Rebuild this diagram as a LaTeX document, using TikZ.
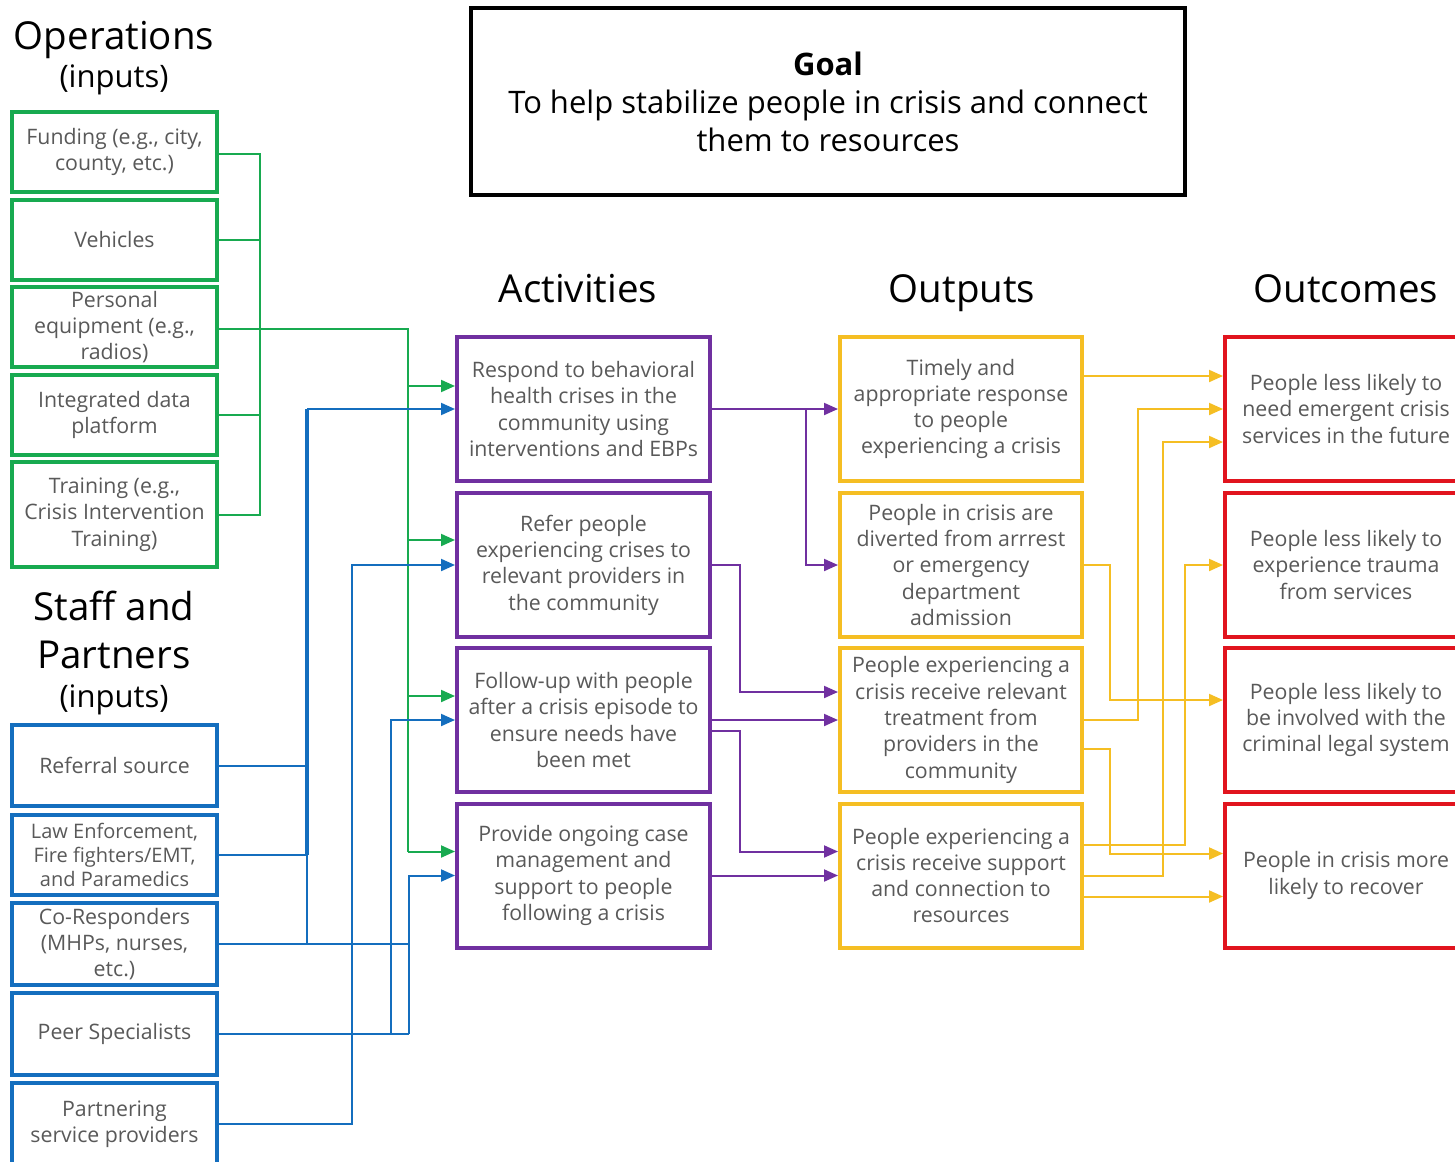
\documentclass[tikz,border=0pt]{standalone}
\usepackage{fontspec}
\setmainfont{Open Sans}
\usetikzlibrary{arrows.meta,calc}
\definecolor{cgrn}{RGB}{24,170,80}
\definecolor{cblu}{RGB}{20,110,190}
\definecolor{cpur}{RGB}{112,48,160}
\definecolor{cyel}{RGB}{245,190,35}
\definecolor{cred}{RGB}{225,20,30}
\definecolor{cgray}{RGB}{89,89,89}
\begin{document}
\begin{tikzpicture}[x=1pt,y=-1pt,
  box/.style={draw, line width=4pt, align=center, inner sep=0pt, text=cgray,
    font=\fontsize{21.3}{26.3}\selectfont},
  gbox/.style={box, draw=cgrn, minimum width=205pt},
  bbox/.style={box, draw=cblu, minimum width=205pt},
  abox/.style={box, draw=cpur, minimum width=253pt, minimum height=144pt},
  obox/.style={box, draw=cyel, minimum width=242pt, minimum height=144pt},
  cbox/.style={box, draw=cred, minimum width=242pt, minimum height=144pt},
  title/.style={font=\fontsize{38.5}{46}\selectfont, text=black, inner sep=0pt, anchor=base},
  subtitle/.style={font=\fontsize{31}{37}\selectfont, text=black, inner sep=0pt, anchor=base},
  tip/.style={-{Triangle[length=14pt,width=12pt]}},
  gline/.style={draw=cgrn, line width=2pt},
  bline/.style={draw=cblu, line width=2pt},
  pline/.style={draw=cpur, line width=2pt},
  yline/.style={draw=cyel, line width=2pt},
]
\useasboundingbox (0,0) rectangle (1455,1161);
\clip (0,0) rectangle (1455,1161);
\fill[white] (0,0) rectangle (1455,1161);

% titles
\node[title] (tops) at (114,50) {Operations};
\node[subtitle] (tinp1) at (114,88) {(inputs)};
\node[title] (tstaff) at (114,620) {Staff and};
\node[title] (tpart) at (114,668) {Partners};
\node[subtitle] (tinp2) at (114,707) {(inputs)};
\node[title] (tact) at (578,302) {Activities};
\node[title] (tout) at (962,302) {Outputs};
\node[title] (toc) at (1346,302) {Outcomes};

% goal
\node[draw=black, line width=3.5pt, minimum width=714pt, minimum height=187pt, align=center,
  font=\fontsize{31}{38}\selectfont, inner sep=0pt] (goal) at (828,101.5)
  {\textbf{Goal}\\To help stabilize people in crisis and connect\\them to resources};

% operations inputs
\node[gbox, minimum height=80pt] (fund) at (114.5,152) {Funding (e.g., city,\\county, etc.)};
\node[gbox, minimum height=80pt] (veh) at (114.5,240) {Vehicles};
\node[gbox, minimum height=80pt] (pers) at (114.5,327) {Personal\\equipment (e.g.,\\radios)};
\node[gbox, minimum height=80pt] (integ) at (114.5,415) {Integrated data\\platform};
\node[gbox, minimum height=105pt] (train) at (114.5,514.5) {Training (e.g.,\\Crisis Intervention\\Training)};

% staff inputs
\node[bbox, minimum height=81pt] (refer) at (114.5,765.5) {Referral source};
\node[bbox, minimum height=80pt, font=\fontsize{20}{24}\selectfont] (law) at (114.5,855) {Law Enforcement,\\Fire fighters/EMT,\\and Paramedics};
\node[bbox, minimum height=82pt] (cores) at (114.5,944) {Co-Responders\\(MHPs, nurses,\\etc.)};
\node[bbox, minimum height=82pt] (peer) at (114.5,1034) {Peer Specialists};
\node[bbox, minimum height=82pt] (partner) at (114.5,1124) {Partnering\\service providers};

% activities
\node[abox] (act1) at (583.5,409) {Respond to behavioral\\health crises in the\\community using\\interventions and EBPs};
\node[abox] (act2) at (583.5,565) {Refer people\\experiencing crises to\\relevant providers in\\the community};
\node[abox] (act3) at (583.5,720) {Follow-up with people\\after a crisis episode to\\ensure needs have\\been met};
\node[abox] (act4) at (583.5,875.5) {Provide ongoing case\\management and\\support to people\\following a crisis};

% outputs
\node[obox] (out1) at (961,409) {Timely and\\appropriate response\\to people\\experiencing a crisis};
\node[obox] (out2) at (961,565) {People in crisis are\\diverted from arrrest\\or emergency\\department\\admission};
\node[obox] (out3) at (961,720) {People experiencing a\\crisis receive relevant\\treatment from\\providers in the\\community};
\node[obox] (out4) at (961,875.5) {People experiencing a\\crisis receive support\\and connection to\\resources};

% outcomes
\node[cbox] (oc1) at (1346,409) {People less likely to\\need emergent crisis\\services in the future};
\node[cbox] (oc2) at (1346,565) {People less likely to\\experience trauma\\from services};
\node[cbox] (oc3) at (1346,720) {People less likely to\\be involved with the\\criminal legal system};
\node[cbox] (oc4) at (1346,875.5) {People in crisis more\\likely to recover};

% ---------- green connectors ----------
\coordinate (gbus) at (260,154);
\coordinate (gtrunk) at (408,329);
\draw[gline] (fund.east |- gbus) -- (gbus) -- (train.east -| gbus) -- (train.east);
\draw[gline] (veh.east) -- (veh.east -| gbus);
\draw[gline] (integ.east) -- (integ.east -| gbus);
\coordinate (a1g) at ([yshift=23pt]act1.west);
\coordinate (a2g) at ([yshift=25pt]act2.west);
\coordinate (a3g) at ([yshift=24pt]act3.west);
\coordinate (a4g) at ([yshift=24pt]act4.west);
\draw[gline] (pers.east |- gtrunk) -- (gtrunk) -- (a4g -| gtrunk);
\draw[gline, tip] (a1g -| gtrunk) -- (a1g);
\draw[gline, tip] (a2g -| gtrunk) -- (a2g);
\draw[gline, tip] (a3g -| gtrunk) -- (a3g);
\draw[gline, tip] (a4g -| gtrunk) -- (a4g);

% ---------- blue connectors ----------
\coordinate (bx1) at (307,0);
\coordinate (bx2) at (391,0);
\coordinate (bx3) at (409,0);
\coordinate (bxp) at (351.5,0);
\draw[bline] (refer.east) -- (refer.east -| bx1);
\draw[bline] (law.east) -- (law.east -| bx1);
\draw[bline, line width=4pt] (act1.west -| bx1) -- (law.east -| bx1);
\draw[bline] (law.east -| bx1) -- (cores.east -| bx1);
\draw[bline, tip] (act1.west -| bx1) -- (act1.west);
\draw[bline] (cores.east) -- (cores.east -| bx3);
\draw[bline] (peer.east) -- (peer.east -| bx3);
\draw[bline, tip] (peer.east -| bx2) |- (act3.west);
\draw[bline, tip] (peer.east -| bx3) |- (act4.west);
\draw[bline, tip] (partner.east) -- (partner.east -| bxp) |- (act2.west);

% ---------- purple connectors ----------
\coordinate (px1) at (806,0);
\coordinate (px2) at (740,0);
\coordinate (o3a) at ([yshift=28pt]out3.west);
\coordinate (a3b) at ([yshift=-11pt]act3.east);
\coordinate (o4a) at ([yshift=24pt]out4.west);
\draw[pline, tip] (act1.east) -- (out1.west);
\draw[pline, tip] (act1.east -| px1) |- (out2.west);
\draw[pline, tip] (act2.east) -- (act2.east -| px2) |- (o3a);
\draw[pline, tip] (act3.east) -- (out3.west);
\draw[pline, tip] (a3b) -- (a3b -| px2) |- (o4a);
\draw[pline, tip] (act4.east) -- (out4.west);

% ---------- yellow connectors ----------
\coordinate (yx1) at (1110,0);
\coordinate (yx2) at (1138,0);
\coordinate (yx3) at (1163,0);
\coordinate (yx4) at (1185,0);
\coordinate (o1a) at ([yshift=33pt]out1.east);
\coordinate (c1c) at ([yshift=-33pt]oc1.west);
\coordinate (c3a) at ([yshift=20pt]oc3.west);
\coordinate (o3b) at ([yshift=-29pt]out3.east);
\coordinate (c4a) at ([yshift=22pt]oc4.west);
\coordinate (o4b) at ([yshift=31pt]out4.east);
\coordinate (o4d) at ([yshift=-21pt]out4.east);
\draw[yline, tip] (o1a) -- (o1a -| oc1.west);
\draw[yline, tip] (out3.east) -- (out3.east -| yx2) |- (oc1.west);
\draw[yline, tip] (out4.east) -- (out4.east -| yx3) |- (c1c);
\draw[yline, tip] (out2.east) -- (out2.east -| yx1) |- (c3a);
\draw[yline, tip] (o3b) -- (o3b -| yx1) |- (c4a);
\draw[yline, tip] (o4b) -- (o4b -| yx4) |- (oc2.west);
\draw[yline, tip] (o4d) -- (o4d -| oc4.west);
\end{tikzpicture}
\end{document}
